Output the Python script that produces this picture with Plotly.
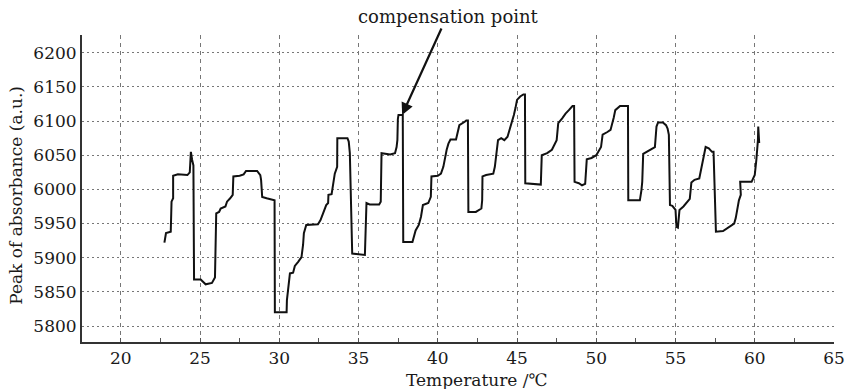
import plotly.graph_objects as go

# Temperature (°C) and peak of absorbance (a.u.)
temperature = [
    22.75, 22.80, 22.85, 23.15, 23.17, 23.20, 23.30, 23.30, 23.60, 24.20,
    24.35, 24.42, 24.50, 24.58, 24.62, 25.04, 25.35, 25.75, 25.94, 25.98,
    26.02, 26.20, 26.30, 26.60, 26.70, 26.90, 27.06, 27.10, 27.50, 27.75,
    27.90, 28.60, 28.80, 28.85, 28.92, 29.20, 29.60, 29.70, 29.72, 30.46,
    30.48, 30.56, 30.67, 30.87, 30.98, 31.19, 31.40, 31.50, 31.55, 31.70,
    32.44, 32.60, 32.75, 32.96, 33.08, 33.10, 33.30, 33.40, 33.50, 33.65,
    33.66, 34.30, 34.38, 34.45, 34.55, 34.60, 35.40, 35.46, 35.50, 35.70,
    36.30, 36.40, 36.45, 37.00, 37.30, 37.40, 37.45, 37.48, 37.52, 37.79,
    37.82, 38.40, 38.60, 38.80, 38.94, 39.06, 39.40, 39.56, 39.60, 40.00,
    40.20, 40.35, 40.45, 40.56, 40.67, 40.80, 41.15, 41.30, 41.36, 41.70,
    41.80, 41.90, 41.93, 42.40, 42.75, 42.80, 42.82, 43.05, 43.50, 43.60,
    43.65, 43.70, 43.80, 44.00, 44.20, 44.40, 44.60, 44.80, 44.90, 45.00,
    45.20, 45.40, 45.50, 45.52, 46.50, 46.56, 46.90, 47.20, 47.50, 47.60,
    47.85, 48.06, 48.27, 48.50, 48.60, 48.63, 48.90, 49.10, 49.30, 49.40,
    49.70, 50.00, 50.30, 50.40, 50.70, 50.90, 51.10, 51.20, 51.50, 52.00,
    52.02, 52.75, 52.85, 52.90, 52.96, 53.20, 53.60, 53.70, 53.80, 53.90,
    54.20, 54.40, 54.50, 54.58, 54.65, 54.80, 55.00, 55.06, 55.15, 55.25,
    55.50, 55.70, 55.90, 56.00, 56.20, 56.50, 56.60, 56.80, 56.90, 57.10,
    57.30, 57.40, 57.55, 58.00, 58.30, 58.70, 58.80, 58.90, 59.00, 59.12,
    59.08, 59.80, 60.00, 60.10, 60.20, 60.22, 60.28,
]
absorbance_peak = [
    5922, 5930, 5936, 5938, 5960, 5982, 5987, 6020, 6022, 6021,
    6025, 6055, 6043, 6035, 5868, 5868, 5861, 5863, 5871, 5931,
    5965, 5967, 5972, 5975, 5982, 5987, 5992, 6019, 6020, 6022,
    6027, 6027, 6021, 6014, 5989, 5987, 5985, 5984, 5820, 5820,
    5838, 5857, 5877, 5878, 5888, 5894, 5901, 5919, 5936, 5948,
    5949, 5955, 5963, 5977, 5980, 5992, 5993, 6009, 6023, 6033,
    6075, 6075, 6070, 6053, 5945, 5906, 5904, 5936, 5980, 5978,
    5978, 5982, 6053, 6051, 6053, 6062, 6072, 6103, 6109, 6109,
    5923, 5923, 5940, 5948, 5960, 5977, 5980, 5989, 6019, 6020,
    6023, 6033, 6048, 6058, 6067, 6073, 6073, 6087, 6094, 6099,
    6101, 6101, 5967, 5967, 5972, 5984, 6019, 6021, 6023, 6033,
    6043, 6055, 6072, 6075, 6072, 6077, 6092, 6109, 6119, 6131,
    6136, 6139, 6139, 6009, 6007, 6050, 6053, 6058, 6072, 6097,
    6104, 6111, 6116, 6122, 6122, 6011, 6009, 6006, 6008, 6044,
    6046, 6050, 6062, 6080, 6084, 6087, 6105, 6116, 6122, 6122,
    5984, 5984, 5999, 6011, 6052, 6055, 6060, 6062, 6092, 6098,
    6098, 6094, 6089, 6080, 5977, 5976, 5970, 5945, 5944, 5970,
    5975, 5980, 5986, 6010, 6014, 6016, 6028, 6053, 6062, 6060,
    6055, 6055, 5938, 5939, 5944, 5950, 5958, 5972, 5984, 5992,
    6011, 6011, 6021, 6043, 6072, 6092, 6068,
]

x_ticks = [20, 25, 30, 35, 40, 45, 50, 55, 60, 65]
y_ticks = [5800, 5850, 5900, 5950, 6000, 6050, 6100, 6150, 6200]

x_title = "Temperature /℃"
y_title = "Peak of absorbance (a.u.)"
note_text = "compensation point"
note_x, note_y = 37.75, 6109

FONT = "DejaVu Serif"

fig = go.Figure()
fig.add_trace(go.Scatter(
    x=temperature, y=absorbance_peak, mode="lines",
    line=dict(color="#111111", width=2), showlegend=False,
))

fig.update_layout(
    width=857, height=389,
    margin=dict(l=82, r=15, t=35, b=47),
    paper_bgcolor="white", plot_bgcolor="white",
    font=dict(family=FONT, size=17, color="#1a1a1a"),
)

fig.update_xaxes(
    range=[17.55, 65], tickvals=x_ticks, ticktext=[str(v) for v in x_ticks],
    showline=True, linecolor="#333333", linewidth=2,
    showgrid=True, gridcolor="#777777", gridwidth=1, griddash="4px,4px",
    ticks="inside", ticklen=4, tickcolor="#555555",
    minor=dict(tickvals=[22.5, 27.5, 32.5, 37.5, 42.5, 47.5, 52.5, 57.5, 62.5],
               ticks="inside", ticklen=4, tickcolor="#555555", showgrid=False),
    zeroline=False, tickfont=dict(family=FONT, size=17),
)
fig.update_yaxes(
    range=[5776.6, 6226], tickvals=y_ticks, ticktext=[str(v) for v in y_ticks],
    showline=True, linecolor="#333333", linewidth=2,
    showgrid=True, gridcolor="#777777", gridwidth=1, griddash="2px,3px",
    ticks="", zeroline=False, tickfont=dict(family=FONT, size=17),
)

fig.add_annotation(
    x=note_x, y=note_y, xref="x", yref="y", text="",
    showarrow=True, ax=40, ay=-88, arrowhead=2, arrowsize=1.1,
    arrowwidth=2.2, arrowcolor="#111111", standoff=0,
)
fig.add_annotation(
    x=0.487, y=1.059, xref="paper", yref="paper", text=note_text,
    showarrow=False, xanchor="center", yanchor="middle",
    font=dict(family=FONT, size=18, color="#1a1a1a"),
)
fig.add_annotation(
    x=0.525, y=-0.124, xref="paper", yref="paper", text=x_title,
    showarrow=False, xanchor="center", yanchor="middle",
    font=dict(family=FONT, size=17, color="#1a1a1a"),
)
fig.add_annotation(
    x=-0.088, y=0.479, xref="paper", yref="paper", text=y_title,
    showarrow=False, textangle=-90, xanchor="center", yanchor="middle",
    font=dict(family=FONT, size=17, color="#1a1a1a"),
)

fig.write_html("out.html")
